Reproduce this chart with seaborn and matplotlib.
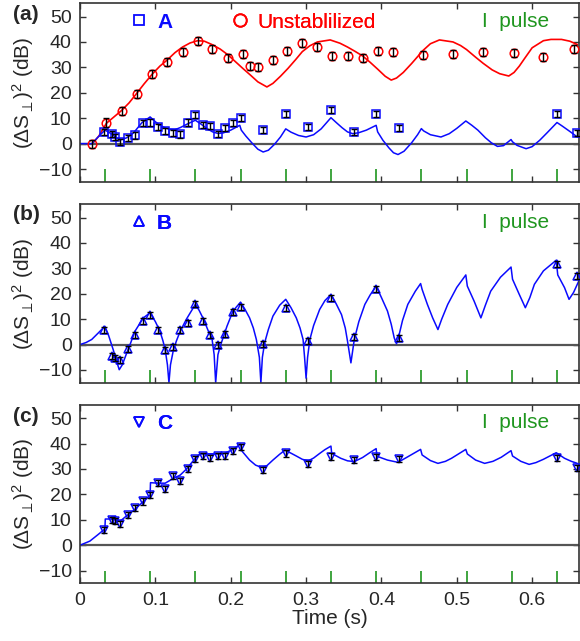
import matplotlib
matplotlib.use('Agg')
import matplotlib.pyplot as plt
import seaborn as sns
from matplotlib.lines import Line2D

sns.set_style('ticks')
plt.rcParams['font.family'] = ['Liberation Sans', 'DejaVu Sans']
plt.rcParams['mathtext.fontset'] = 'custom'
plt.rcParams['mathtext.rm'] = 'Liberation Sans'
plt.rcParams['mathtext.it'] = 'Liberation Sans:italic'
plt.rcParams['mathtext.fallback'] = 'stixsans'

# pulse times (s)
pulse_t = [0.033, 0.093, 0.153, 0.213, 0.273, 0.333, 0.393, 0.453, 0.513, 0.573, 0.633]

# measured points, stabilised runs A/B/C share the same times
pt_t = [0.032, 0.042, 0.047, 0.053, 0.063, 0.073, 0.083, 0.093, 0.103, 0.113,
        0.123, 0.133, 0.143, 0.153, 0.163, 0.173, 0.183, 0.193, 0.203, 0.213,
        0.243, 0.273, 0.303, 0.333, 0.363, 0.393, 0.423, 0.633, 0.66]
pt_a = [4.6, 3.9, 2.6, 0.7, 2.2, 3.2, 8.2, 8.3, 6.4, 5.0,
        4.2, 3.6, 8.3, 11.2, 7.4, 7.0, 3.9, 6.3, 8.2, 10.0,
        5.3, 11.6, 6.6, 13.2, 4.6, 11.6, 6.2, 11.8, 4.2]
pt_b = [5.7, -4.6, -5.3, -5.9, -1.7, 3.9, 9.2, 11.8, 5.9, -2.2,
        -1.1, 5.9, 8.6, 15.8, 9.2, 3.9, 0.0, 4.3, 12.8, 14.9,
        0.3, 14.5, 1.3, 18.4, 2.9, 21.7, 2.6, 31.8, 27.0]
pt_c = [6.1, 9.8, 9.4, 8.5, 12.0, 14.5, 17.2, 19.7, 24.4, 22.2,
        27.4, 25.4, 30.0, 34.0, 35.2, 34.4, 35.2, 35.1, 37.0, 38.5,
        29.6, 36.1, 31.9, 34.9, 33.5, 34.6, 33.8, 34.2, 30.5]
err_stab = 1.2

# unstabilised points
un_t = [0.016, 0.035, 0.056, 0.075, 0.096, 0.116, 0.136, 0.156, 0.175, 0.196,
        0.216, 0.225, 0.236, 0.256, 0.275, 0.295, 0.315, 0.335, 0.355, 0.375,
        0.395, 0.416, 0.455, 0.495, 0.535, 0.576, 0.615, 0.655]
un_v = [0.0, 8.3, 12.9, 19.5, 27.4, 32.0, 35.9, 40.3, 37.2, 33.8,
        35.1, 30.4, 30.1, 33.0, 36.4, 39.7, 38.1, 34.5, 34.5, 33.8,
        36.6, 36.2, 34.9, 35.3, 36.2, 35.8, 34.0, 37.1]
err_un = 1.6

# model curves
red_t = [0.016, 0.02, 0.025, 0.03, 0.035, 0.045, 0.055, 0.065, 0.075, 0.085,
         0.096, 0.106, 0.116, 0.126, 0.136, 0.146, 0.156, 0.165, 0.175, 0.186,
         0.196, 0.206, 0.216, 0.226, 0.236, 0.248, 0.256, 0.266, 0.276, 0.286,
         0.295, 0.305, 0.315, 0.332, 0.345, 0.355, 0.365, 0.375, 0.385, 0.395,
         0.405, 0.413, 0.42, 0.429, 0.44, 0.455, 0.465, 0.477, 0.495, 0.505,
         0.513, 0.525, 0.535, 0.547, 0.557, 0.569, 0.576, 0.583, 0.59, 0.6,
         0.615, 0.625, 0.639, 0.65, 0.66]
red_v = [0.0, 1.2, 3.0, 5.5, 8.0, 10.5, 13.0, 16.0, 19.7, 23.5,
         27.4, 30.5, 33.0, 35.8, 38.0, 39.6, 40.5, 40.3, 39.0, 37.2,
         35.0, 32.3, 29.6, 27.0, 24.3, 22.3, 23.7, 26.5, 29.6, 33.0,
         36.2, 38.5, 40.0, 40.8, 39.5, 38.0, 36.3, 34.5, 32.0, 29.3,
         26.5, 25.0, 25.8, 28.0, 31.5, 36.6, 39.3, 40.8, 40.0, 38.6,
         37.0, 34.0, 31.6, 29.0, 27.5, 26.6, 28.0, 30.5, 33.5, 37.7,
         40.5, 41.0, 41.0, 40.3, 39.0]

a_t = [0.0, 0.016, 0.022, 0.027, 0.033, 0.038, 0.044, 0.049, 0.055, 0.062,
       0.071, 0.082, 0.093, 0.1, 0.106, 0.113, 0.119, 0.126, 0.133, 0.143,
       0.153, 0.16, 0.168, 0.176, 0.183, 0.19, 0.2, 0.212, 0.214, 0.22,
       0.228, 0.236, 0.243, 0.25, 0.258, 0.266, 0.273, 0.28, 0.29, 0.3,
       0.31, 0.32, 0.333, 0.34, 0.348, 0.355, 0.362, 0.37, 0.38, 0.393,
       0.395, 0.402, 0.41, 0.416, 0.422, 0.43, 0.44, 0.448, 0.453, 0.456,
       0.465, 0.479, 0.49, 0.5, 0.512, 0.52, 0.528, 0.538, 0.546, 0.554,
       0.562, 0.572, 0.574, 0.58, 0.592, 0.6, 0.61, 0.62, 0.633, 0.64,
       0.65, 0.66]
a_v = [0.0, 0.0, 2.0, 3.5, 5.3, 4.5, 3.3, 2.2, 1.6, 2.3,
       4.2, 8.2, 10.5, 8.6, 7.2, 6.2, 5.6, 5.5, 6.3, 7.8,
       9.2, 7.8, 6.0, 4.6, 4.0, 4.2, 5.3, 7.2, 5.3, 3.0,
       0.3, -2.2, -3.3, -2.6, -0.3, 2.6, 5.8, 4.5, 3.2, 2.6,
       3.5, 5.8, 10.2, 8.3, 6.2, 4.6, 3.9, 4.3, 5.3, 7.2,
       4.6, 1.3, -1.7, -3.6, -4.3, -3.0, 0.3, 3.5, 5.9, 5.0,
       3.5, 2.6, 3.9, 6.0, 8.9, 7.2, 5.3, 2.3, 0.3, -1.1,
       -0.8, 1.6, 0.7, -0.7, -2.0, -1.2, 1.3, 4.3, 8.3, 6.9,
       4.8, 2.6]

b_t = [0.0, 0.008, 0.0155, 0.024, 0.033, 0.038, 0.044, 0.048, 0.052, 0.056,
       0.062, 0.067, 0.073, 0.084, 0.093, 0.1, 0.106, 0.11, 0.113, 0.116,
       0.118, 0.12, 0.124, 0.128, 0.133, 0.141, 0.153, 0.158, 0.164, 0.17,
       0.175, 0.178, 0.18, 0.183, 0.186, 0.195, 0.203, 0.213, 0.219, 0.225,
       0.23, 0.234, 0.238, 0.24, 0.242, 0.245, 0.25, 0.256, 0.265, 0.273,
       0.28, 0.287, 0.292, 0.296, 0.298, 0.3, 0.302, 0.305, 0.31, 0.318,
       0.325, 0.333, 0.34, 0.347, 0.352, 0.355, 0.3595, 0.364, 0.37, 0.378,
       0.385, 0.393, 0.4, 0.408, 0.413, 0.417, 0.42, 0.422, 0.428, 0.435,
       0.445, 0.452, 0.454, 0.461, 0.468, 0.475, 0.48, 0.488, 0.5, 0.512,
       0.514, 0.523, 0.532, 0.538, 0.545, 0.558, 0.572, 0.574, 0.583, 0.591,
       0.597, 0.603, 0.615, 0.632, 0.634, 0.643, 0.649, 0.655, 0.663]
b_v = [0.0, 0.8, 2.0, 4.5, 7.2, 3.5, -2.0, -6.0, -9.9, -8.0,
       -3.3, 0.5, 5.3, 10.5, 12.5, 9.0, 5.3, 1.5, -2.0, -8.0,
       -15.0, -8.0, -2.0, 1.5, 5.3, 9.9, 15.8, 13.5, 9.9, 5.5,
       2.6, -4.0, -15.0, -4.0, -0.7, 7.2, 13.2, 16.7, 13.8, 10.5,
       6.5, 2.0, -5.0, -15.0, -5.0, 0.7, 6.0, 11.2, 15.5, 17.8,
       14.5, 10.5, 6.5, 2.0, -5.0, -13.2, -5.0, 2.0, 7.5, 13.8,
       17.3, 19.7, 16.0, 11.8, 6.5, 1.3, -7.2, 2.0, 9.0, 15.8,
       19.5, 23.0, 18.5, 13.2, 8.0, 2.6, 0.3, 2.0, 9.5, 15.8,
       21.0, 24.0, 21.7, 15.8, 10.5, 5.9, 10.0, 15.8, 22.5, 27.4,
       23.0, 17.1, 10.5, 15.5, 21.0, 26.5, 30.5, 25.7, 19.7, 14.5,
       18.5, 23.7, 29.0, 33.2, 27.4, 22.4, 17.8, 20.5, 25.7]

c_t = [0.0, 0.013, 0.024, 0.033, 0.0335, 0.044, 0.053, 0.062, 0.073, 0.084,
       0.093, 0.0935, 0.104, 0.113, 0.124, 0.133, 0.141, 0.153, 0.159, 0.172,
       0.19, 0.203, 0.213, 0.215, 0.225, 0.233, 0.241, 0.248, 0.256, 0.265,
       0.272, 0.28, 0.287, 0.295, 0.303, 0.31, 0.318, 0.325, 0.333, 0.334,
       0.346, 0.355, 0.364, 0.375, 0.385, 0.393, 0.394, 0.408, 0.422, 0.435,
       0.452, 0.454, 0.465, 0.475, 0.485, 0.493, 0.512, 0.514, 0.525, 0.537,
       0.548, 0.559, 0.572, 0.574, 0.585, 0.596, 0.605, 0.615, 0.632, 0.643,
       0.652, 0.66]
c_v = [0.0, 1.6, 4.2, 6.4, 10.3, 10.3, 9.4, 11.6, 14.2, 17.2,
       19.7, 24.6, 24.4, 24.4, 26.3, 27.6, 29.9, 34.2, 35.9, 35.9,
       35.9, 37.7, 39.8, 37.0, 33.5, 31.5, 30.6, 31.3, 33.5, 35.8,
       37.4, 36.2, 35.1, 33.8, 33.2, 34.3, 36.1, 37.6, 39.0, 36.1,
       34.2, 33.2, 32.9, 34.5, 36.5, 38.0, 35.0, 33.5, 32.6, 34.8,
       37.7, 35.5, 33.3, 32.2, 33.0, 34.2, 37.7, 35.9, 33.5, 32.2,
       33.0, 34.6, 37.2, 35.1, 33.0, 31.8, 32.5, 33.8, 36.4, 34.2,
       33.0, 32.2]

BLUE = '#0a0aff'
RED = '#ff0000'
GREEN = '#1f961f'


def add_key(ax, marker, ms, color, label, x, bold=False):
    h = Line2D([], [], ls='none', marker=marker, ms=ms, mfc='none', mec=color, mew=1.3)
    leg = ax.legend([h], [label], loc='center left', bbox_to_anchor=(x, 0.895),
                    frameon=False, handlelength=1.0, handletextpad=0.35,
                    borderpad=0, borderaxespad=0, labelcolor=color,
                    prop={'size': 15, 'weight': 'bold' if bold else 'normal'})
    ax.add_artist(leg)


def draw_points(ax, t, v, err, marker, ms, color):
    ax.plot(t, v, ls='none', marker=marker, ms=ms, mfc='none', mec=color, mew=1.1, zorder=3)
    ax.errorbar(t, v, yerr=err, fmt='none', ecolor='black', elinewidth=1.0,
                capsize=2.5, capthick=1.0, zorder=4)


def setup(ax, name, show_x):
    ax.axhline(0, color='#555555', lw=1.6, zorder=1)
    ax.vlines(pulse_t, -15, -10, color=GREEN, lw=1.2, zorder=2)
    ax.set_xlim(0, 0.662)
    ax.set_ylim(-15, 55.2)
    ax.set_yticks([-10, 0, 10, 20, 30, 40, 50])
    ax.set_xticks([0, 0.1, 0.2, 0.3, 0.4, 0.5, 0.6])
    ax.tick_params(direction='in', top=True, right=True, labelsize=14, length=4,
                   width=1, pad=6, color='#333333')
    if show_x:
        ax.set_xticklabels(['0', '0.1', '0.2', '0.3', '0.4', '0.5', '0.6'])
        ax.set_xlabel('Time (s)', fontsize=15, labelpad=0)
    else:
        ax.set_xticklabels([])
        ax.set_xlabel('')
    ax.set_ylabel(r'$(\Delta \mathrm{S}_{\perp})^2$ (dB)', fontsize=15, labelpad=2)
    for s in ax.spines.values():
        s.set_color('#333333')
        s.set_linewidth(1.2)
    ax.text(0.805, 0.9, 'I  pulse', color=GREEN, fontsize=15,
            transform=ax.transAxes, ha='left', va='center')


fig = plt.figure(figsize=(5.8, 6.41), dpi=100)
ax_a = fig.add_axes([0.138, 0.7165, 0.860, 0.2783])
ax_b = fig.add_axes([0.138, 0.403, 0.860, 0.2783])
ax_c = fig.add_axes([0.138, 0.090, 0.860, 0.2783])

# (a)
sns.lineplot(x=red_t, y=red_v, ax=ax_a, color=RED, lw=1.2, estimator=None, sort=False)
sns.lineplot(x=a_t, y=a_v, ax=ax_a, color=BLUE, lw=1.1, estimator=None, sort=False)
draw_points(ax_a, un_t, un_v, err_un, 'o', 6.2, RED)
draw_points(ax_a, pt_t, pt_a, err_stab, 's', 6.0, BLUE)
setup(ax_a, 'a', False)
add_key(ax_a, 's', 7.5, BLUE, 'A', 0.098, bold=True)
add_key(ax_a, 'o', 9, RED, 'Unstablilized', 0.299)

# (b)
sns.lineplot(x=b_t, y=b_v, ax=ax_b, color=BLUE, lw=1.1, estimator=None, sort=False)
draw_points(ax_b, pt_t, pt_b, err_stab, '^', 6.0, BLUE)
setup(ax_b, 'b', False)
add_key(ax_b, '^', 7.5, BLUE, 'B', 0.098, bold=True)

# (c)
sns.lineplot(x=c_t, y=c_v, ax=ax_c, color=BLUE, lw=1.1, estimator=None, sort=False)
draw_points(ax_c, pt_t, pt_c, err_stab, 'v', 6.0, BLUE)
setup(ax_c, 'c', True)
add_key(ax_c, 'v', 7.5, BLUE, 'C', 0.098, bold=True)

for lab, y in [('(a)', 0.977), ('(b)', 0.665), ('(c)', 0.35)]:
    fig.text(0.022, y, lab, fontsize=15, fontweight='bold', ha='left', va='center')

fig.savefig('out.png', dpi=100)
